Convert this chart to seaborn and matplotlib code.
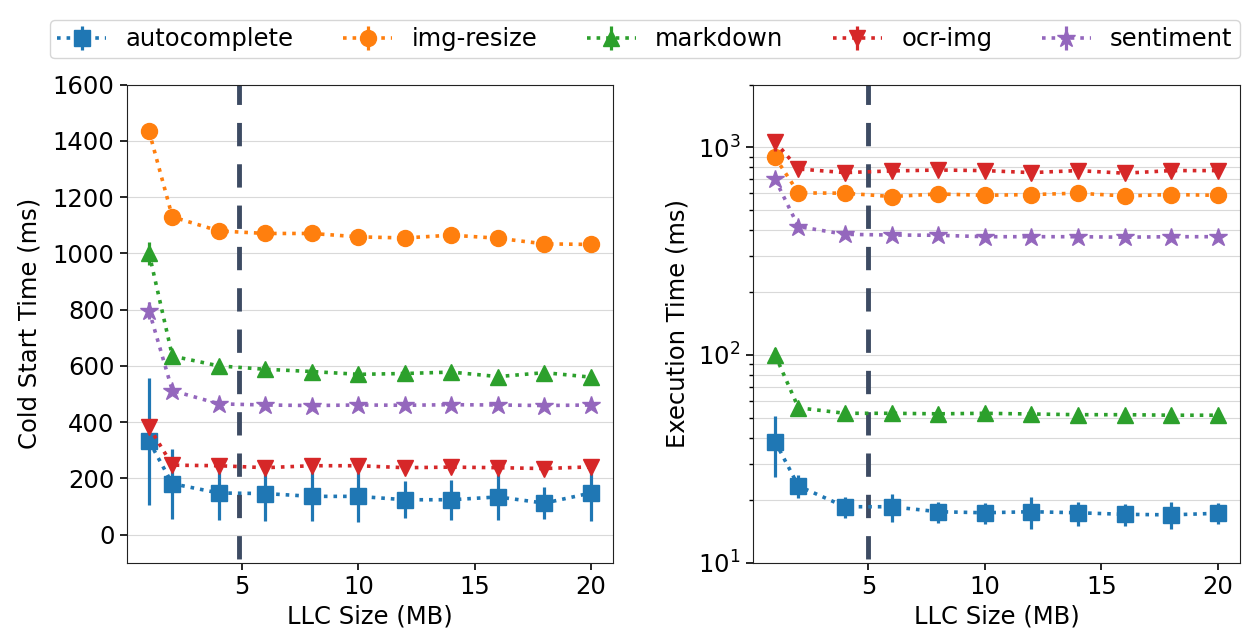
import matplotlib
matplotlib.use("Agg")
import matplotlib.pyplot as plt
import seaborn as sns
from matplotlib.lines import Line2D
from matplotlib.legend_handler import HandlerTuple
from matplotlib.ticker import LogLocator, NullFormatter

# ---------------- data ----------------
llc_sizes = [1, 2, 4, 6, 8, 10, 12, 14, 16, 18, 20]
functions = ["autocomplete", "img-resize", "markdown", "ocr-img", "sentiment"]
x_ticks = [5, 10, 15, 20]
cold_ticks = [0, 200, 400, 600, 800, 1000, 1200, 1400, 1600]

cold_autocomplete = [332, 181, 148, 146, 136, 136, 124, 124, 134, 112, 148]
cold_autocomplete_err = [225, 125, 95, 96, 86, 92, 65, 71, 83, 56, 101]
cold_img_resize = [1434, 1130, 1080, 1071, 1071, 1059, 1055, 1065, 1054, 1034, 1032]
cold_img_resize_err = [12, 8, 6, 6, 6, 6, 6, 6, 6, 6, 6]
cold_markdown = [1000, 635, 600, 588, 580, 570, 573, 578, 562, 576, 560]
cold_markdown_err = [40, 10, 6, 6, 6, 6, 6, 6, 6, 6, 6]
cold_ocr_img = [382, 247, 245, 238, 245, 245, 238, 240, 238, 235, 241]
cold_ocr_img_err = [15, 6, 5, 5, 5, 5, 5, 5, 5, 5, 5]
cold_sentiment = [796, 512, 465, 461, 459, 461, 460, 462, 461, 459, 461]
cold_sentiment_err = [30, 10, 5, 5, 5, 5, 5, 5, 5, 5, 5]

exec_autocomplete = [38.3, 23.4, 18.6, 18.6, 17.6, 17.4, 17.6, 17.4, 17.1, 17.0, 17.3]
exec_autocomplete_err = [12.3, 3.0, 2.2, 2.9, 2.0, 2.0, 3.1, 2.3, 2.1, 2.5, 2.0]
exec_img_resize = [895, 603, 601, 579, 596, 587, 592, 601, 583, 592, 587]
exec_img_resize_err = [40, 10, 10, 10, 10, 10, 10, 10, 10, 10, 10]
exec_markdown = [100, 55.7, 52.4, 52.4, 52.1, 52.4, 52.0, 51.6, 51.6, 51.3, 51.3]
exec_markdown_err = [8, 1, 1, 1, 1, 1, 1, 1, 1, 1, 1]
exec_ocr_img = [1064, 786, 755, 769, 777, 772, 755, 772, 750, 772, 772]
exec_ocr_img_err = [100, 15, 10, 10, 10, 10, 10, 10, 10, 10, 10]
exec_sentiment = [701, 415, 381, 378, 377, 371, 371, 371, 369, 371, 371]
exec_sentiment_err = [30, 8, 5, 5, 5, 5, 5, 5, 5, 5, 5]

default_llc_mb = [4.85, 5.0]  # dashed reference lines (left, right)

# ---------------- style ----------------
sns.set_style("white", rc={
    "axes.edgecolor": "#222222",
    "axes.linewidth": 1.3,
    "grid.color": "#d9d9d9",
    "grid.linewidth": 1.5,
    "xtick.bottom": True,
    "ytick.left": True,
    "xtick.direction": "out",
    "ytick.direction": "out",
    "text.color": "black",
    "axes.labelcolor": "black",
    "xtick.color": "black",
    "ytick.color": "black",
})
plt.rcParams["font.family"] = ["DejaVu Sans"]
plt.rcParams["font.size"] = 17.5

palette = sns.color_palette("tab10", 5)
markers = ["s", "o", "^", "v", "*"]

fig = plt.figure(figsize=(12.55, 6.36), dpi=100)
ax1 = fig.add_axes([0.1012, 0.1152, 0.3873, 0.7516])
ax2 = fig.add_axes([0.6000, 0.1152, 0.3880, 0.7516])

cold_vals = [cold_autocomplete, cold_img_resize, cold_markdown, cold_ocr_img, cold_sentiment]
cold_errs = [cold_autocomplete_err, cold_img_resize_err, cold_markdown_err, cold_ocr_img_err, cold_sentiment_err]
exec_vals = [exec_autocomplete, exec_img_resize, exec_markdown, exec_ocr_img, exec_sentiment]
exec_errs = [exec_autocomplete_err, exec_img_resize_err, exec_markdown_err, exec_ocr_img_err, exec_sentiment_err]

ax2.set_yscale("log")

handles = []
for ax, vals_list, errs_list in [(ax1, cold_vals, cold_errs), (ax2, exec_vals, exec_errs)]:
    for i, name in enumerate(functions):
        c = palette[i]
        ax.errorbar(llc_sizes, vals_list[i], yerr=errs_list[i], fmt="none",
                    ecolor=c, elinewidth=2.3, capsize=0, zorder=2 + i)
        sns.lineplot(x=llc_sizes, y=vals_list[i], ax=ax, color=c, marker=markers[i],
                     linestyle=":", linewidth=2.6, markersize=11.5 if markers[i] != "*" else 13.5,
                     markeredgecolor=c, markeredgewidth=1, errorbar=None, legend=False,
                     zorder=2 + i)
        if ax is ax1:
            line = ax.lines[-1]
            bar = Line2D([], [], color=c, marker="|", markersize=17, markeredgewidth=2.3,
                         linestyle="none")
            handles.append((bar, line))

for ax, xv in [(ax1, default_llc_mb[0]), (ax2, default_llc_mb[1])]:
    ax.axvline(xv, ymin=1, ymax=0, color="#3d4b63", linewidth=3.5,
               linestyle=(0.8, (4.8, 3.7)), zorder=1.5)
    ax.set_xlim(0.05, 20.95)
    ax.set_xticks(x_ticks)
    ax.set_xlabel("LLC Size (MB)", labelpad=4)
    ax.tick_params(axis="both", length=5, width=1.2, pad=4)
    for s in ax.spines.values():
        s.set_visible(True)

ax1.set_ylim(-100, 1600)
ax1.set_yticks(cold_ticks)
ax1.grid(axis="y", which="major")
ax1.set_ylabel("Cold Start Time (ms)", labelpad=8)

ax2.set_ylim(10, 2000)
ax2.yaxis.set_major_locator(LogLocator(base=10, numticks=10))
ax2.yaxis.set_minor_locator(LogLocator(base=10, subs=range(2, 10), numticks=20))
ax2.yaxis.set_minor_formatter(NullFormatter())
ax2.tick_params(axis="y", which="minor", length=3, width=1.0)
ax2.grid(axis="y", which="both")
ax2.set_ylabel("Execution Time (ms)", labelpad=6)

fig.legend(handles=handles, labels=functions, handler_map={tuple: HandlerTuple(ndivide=1)},
           loc="upper center", bbox_to_anchor=(0.514, 0.988), ncol=5, fontsize=17.5,
           frameon=True, handlelength=2.0, columnspacing=2.05, borderpad=0.3,
           edgecolor="#cccccc", fancybox=True)

fig.savefig("out.png", dpi=100)
